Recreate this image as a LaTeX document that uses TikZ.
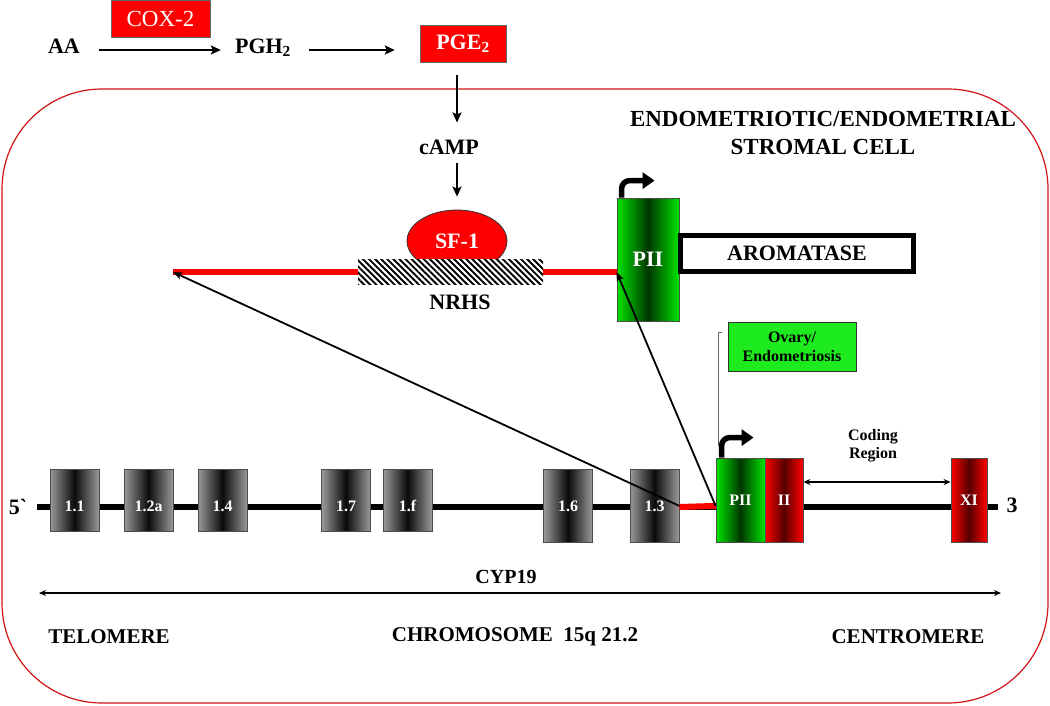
\documentclass[tikz,border=0pt]{standalone}
\usepackage{fontspec}
\setmainfont{Liberation Serif}
\usetikzlibrary{shapes.geometric, arrows.meta, patterns.meta}
\definecolor{customred}{HTML}{FF0000}
\definecolor{customdarkred}{HTML}{560000}
\definecolor{customgreen}{HTML}{00E400}
\definecolor{customdarkgreen}{HTML}{003600}
\definecolor{customgray}{HTML}{9A9A9A}
\definecolor{customdark}{HTML}{0A0A0A}
\definecolor{customlime}{HTML}{1EEB1E}
\definecolor{customframe}{HTML}{D21414}

\tikzset{
  lbl/.style = {inner sep = 0pt, font = \fontsize{22}{28}\selectfont\bfseries},
  smalllbl/.style = {inner sep = 0pt, align = center, font = \fontsize{16}{18}\selectfont\bfseries},
  genelbl/.style = {inner sep = 0pt, text = white, font = \fontsize{16}{18}\selectfont\bfseries},
  genebox/.style = {draw = black!70, line width = 0.8pt, rectangle, inner sep = 0pt, minimum width = 49pt,
    left color = customgray, right color = customgray, middle color = customdark},
  greenbox/.style = {draw = black!70, line width = 0.8pt, rectangle, inner sep = 0pt, text = white,
    left color = customgreen, right color = customgreen, middle color = customdarkgreen},
  redbox/.style = {draw = black!70, line width = 0.8pt, rectangle, inner sep = 0pt, text = white,
    left color = customred, right color = customred, middle color = customdarkred},
  arr/.style = {line width = 2.4pt, -{Stealth[length = 10pt, width = 9pt, inset = 2pt]}},
  diag/.style = {line width = 1.8pt, -{Stealth[length = 9pt, width = 7pt, inset = 2pt]}},
  thinarr/.style = {line width = 1.3pt, {Stealth[length = 7pt, width = 6pt]}-{Stealth[length = 7pt, width = 6pt]}},
  bent/.style = {line width = 5.5pt, rounded corners = 8pt, -{Triangle[length = 12pt, width = 16pt]}},
  callout/.style = {draw = black!60, line width = 0.9pt},
}

\begin{document}
\begin{tikzpicture}[x = 1pt, y = -1pt]

        \useasboundingbox (0, 0) rectangle (1050, 705);

        % Cell
        \draw [customframe, line width = 1.2pt, rounded corners = 100pt] (2, 89) rectangle (1048, 703);

        % Pathway
        \node [lbl] (aa) at (64, 46) {AA};
        \node [draw = black!60, fill = customred, text = white, inner sep = 0pt, minimum width = 99pt, minimum height = 37pt, font = \fontsize{23}{27}\selectfont] (cox) at (160.5, 18.5) {COX-2};
        \node [lbl] (pgh) at (263, 47.5) {PGH\textsubscript{2}};
        \node [lbl, draw = black!60, fill = customred, text = white, minimum width = 86pt, minimum height = 37pt] (pge) at (463, 43.5) {PGE\textsubscript{2}};
        \node [lbl] (camp) at (449, 147) {cAMP};

        \node [lbl, align = center, font = \fontsize{23}{28}\selectfont\bfseries] (cell) at (823, 133) {ENDOMETRIOTIC/ENDOMETRIAL\\STROMAL CELL};

        % Promoter II region
        \node [ellipse, draw = black!80, line width = 0.8pt, fill = customred, text = white, lbl, minimum width = 100pt, minimum height = 62pt] (sf1) at (457, 241) {SF-1};
        \node [greenbox, lbl, minimum width = 62pt, minimum height = 123pt] (pIIt) at (648, 259.5) {PII};
        \node [lbl, draw, line width = 5pt, minimum width = 233pt, minimum height = 36pt] (arom) at (797, 253.5) {AROMATASE};

        \coordinate (redL) at (173, 272);
        \draw [customred, line width = 5.5pt] (redL) -- (redL -| pIIt.west);
        \node [fill = white, postaction = {pattern = {Lines[angle = -45, distance = 4.3pt, line width = 1.9pt]}}, minimum width = 185pt, minimum height = 25pt, inner sep = 0pt] (nrhs) at (450.5, 271.5) {};
        \node [lbl] (nrhslbl) at (460, 302) {NRHS};

        \draw [bent] ([xshift = 5pt]pIIt.north west) -- ++(0, -17) -- ++(33, 0);

        \node [draw = black!80, line width = 0.8pt, fill = customlime, smalllbl, font = \fontsize{16}{19}\selectfont\bfseries, minimum width = 128pt, minimum height = 49pt] (ovary) at (792, 346.5) {Ovary/\\Endometriosis};
        \draw [callout] ([xshift = -6pt, yshift = -11pt]ovary.north west) -- ++(-3, 0) -- ++(0, 113);

        % Chromosome
        \coordinate (chrL) at (37, 507);
        \coordinate (chrR) at (998, 507);
        \draw [line width = 6pt] (chrL) -- (chrR);
        \node [lbl] (five) at (18, 507) {5\textasciigrave};
        \node [lbl] (three) at (1012, 505) {3};

        \foreach \name/\x/\txt/\h in {g11/74.5/1.1/62, g12a/148.5/1.2a/62, g14/222.5/1.4/62, g17/346/1.7/62, g1f/407.5/1.f/62, g16/568/1.6/73, g13/654.5/1.3/73} {
            \node [genebox, anchor = north, minimum height = \h pt] (\name) at (\x, 469) {};
            \node [genelbl] (\name-t) at (\x, 506) {\txt};
        }

        \draw [customred, line width = 6pt] (g13.east |- chrL) -- (g13.east -| 716, 0);

        \node [greenbox, minimum width = 49pt, minimum height = 84pt, font = \fontsize{16}{18}\selectfont\bfseries] (pIIb) at (740.5, 500) {PII};
        \node [redbox, minimum width = 38pt, minimum height = 84pt, font = \fontsize{16}{18}\selectfont\bfseries] (exII) at (784, 500) {II};
        \node [redbox, minimum width = 36pt, minimum height = 84pt, font = \fontsize{16}{18}\selectfont\bfseries] (exXI) at (969, 500) {XI};

        \draw [bent] ([xshift = 6pt]pIIb.north west) -- ++(0, -20) -- ++(32, 0);

        \node [smalllbl] (coding) at (873, 446) {Coding\\Region};
        \draw [thinarr] ([yshift = 18pt]exII.east) -- ([yshift = 18pt]exXI.west);

        % Arrows
        \draw [arr, shorten <= 19pt, shorten >= 14pt] ([yshift = -4pt]aa.east) -- ([yshift = -4pt]aa.east -| pgh.west);
        \draw [arr, shorten <= 18pt, shorten >= 25pt] ([yshift = -4pt]aa.east -| pgh.east) -- ([yshift = -4pt]aa.east -| pge.west);
        \draw [arr, shorten <= 13pt, shorten >= 17pt] (pge.south -| sf1.north) -- (camp.north -| sf1.north);
        \draw [arr, shorten <= 8pt, shorten >= 13pt] (camp.south -| sf1.north) -- (sf1.north);
        \draw [diag] (g13.east) -- (redL);
        \draw [diag] (pIIb.west |- g13.east) -- (redL -| pIIt.west);

        % Labels
        \coordinate (cypL) at (39, 593);
        \coordinate (cypR) at (1001, 593);
        \draw [thinarr] (cypL) -- (cypR);
        \node [lbl, font = \fontsize{20}{24}\selectfont\bfseries] (cyp) at (506, 577) {CYP19};
        \node [lbl, font = \fontsize{21}{24}\selectfont\bfseries] (telo) at (109, 637) {TELOMERE};
        \node [lbl, font = \fontsize{21}{24}\selectfont\bfseries] (chrom) at (515, 637) {CHROMOSOME\ \ 15q 21.2};
        \node [lbl, font = \fontsize{21}{24}\selectfont\bfseries] (centro) at (908, 637) {CENTROMERE};

\end{tikzpicture}
\end{document}
